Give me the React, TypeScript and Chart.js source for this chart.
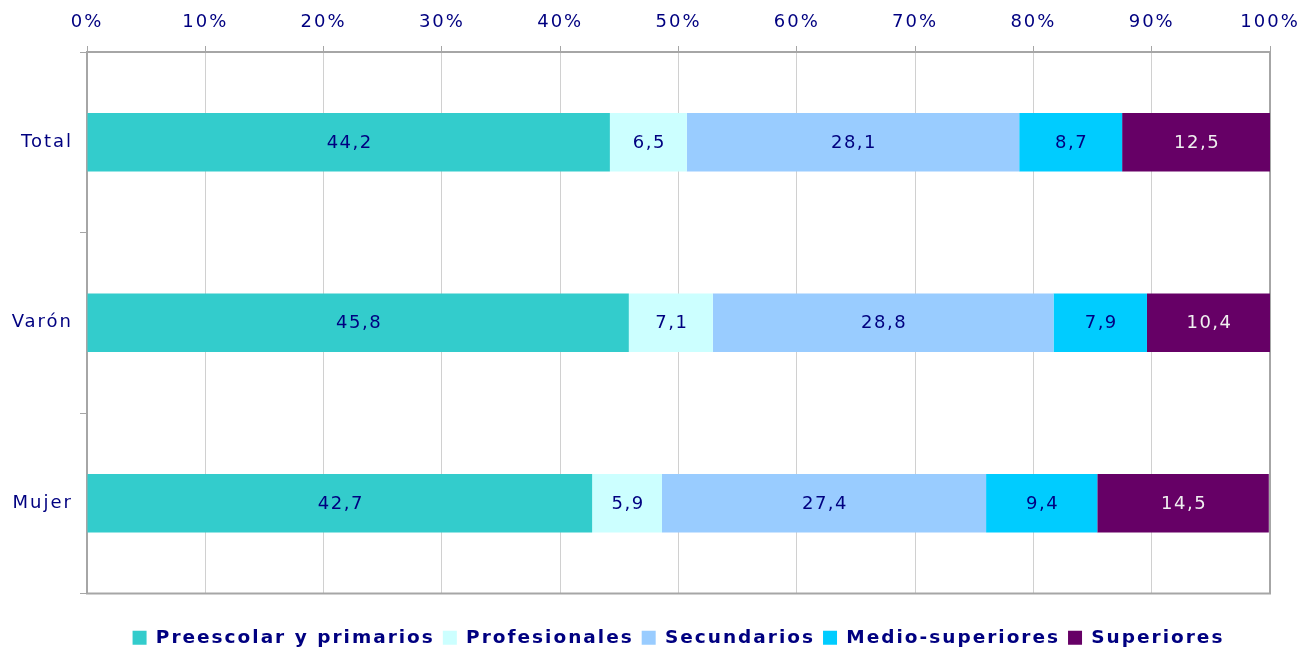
import React, { useEffect, useRef } from "react";
import { Chart, registerables } from "chart.js";

Chart.register(...registerables);

const categories = ["Total", "Varón", "Mujer"];
const seriesNames = ["Preescolar y primarios", "Profesionales", "Secundarios", "Medio-superiores", "Superiores"];
const preescolar = [44.2, 45.8, 42.7];
const profesionales = [6.5, 7.1, 5.9];
const secundarios = [28.1, 28.8, 27.4];
const medioSuperiores = [8.7, 7.9, 9.4];
const superiores = [12.5, 10.4, 14.5];
const seriesColors = ["#33CCCC", "#CCFFFF", "#99CCFF", "#00CCFF", "#660066"];
const labelColors = ["#000080", "#000080", "#000080", "#000080", "#F0F0F0"];

const FONT = "'DejaVu Sans', Verdana, sans-serif";
const NAVY = "#000080";

const spacingPlugin = {
  id: "spacing",
  beforeUpdate(chart: any) { chart.ctx.letterSpacing = "2px"; },
  beforeLayout(chart: any) { chart.ctx.letterSpacing = "2px"; },
  beforeDraw(chart: any) { chart.ctx.letterSpacing = "2px"; },
};

const framePlugin = {
  id: "frame",
  beforeDatasetsDraw(chart: any) {
    const { ctx, chartArea } = chart;
    ctx.save();
    ctx.strokeStyle = "#A6A6A6";
    ctx.lineWidth = 2;
    ctx.strokeRect(chartArea.left, chartArea.top, chartArea.right - chartArea.left, chartArea.bottom - chartArea.top);
    ctx.restore();
  },
};

const valueLabelPlugin = {
  id: "valueLabels",
  afterDatasetsDraw(chart: any) {
    const { ctx } = chart;
    ctx.save();
    ctx.letterSpacing = "1.5px";
    ctx.font = `18px ${FONT}`;
    ctx.textAlign = "center";
    ctx.textBaseline = "middle";
    chart.data.datasets.forEach((ds: any, i: number) => {
      const meta = chart.getDatasetMeta(i);
      meta.data.forEach((bar: any, j: number) => {
        const v = ds.data[j];
        const cx = (bar.x + bar.base) / 2;
        ctx.fillStyle = labelColors[i];
        ctx.fillText(v.toFixed(1).replace(".", ","), cx + 1, bar.y + 1);
      });
    });
    ctx.restore();
  },
};

export default function App() {
  const ref = useRef<HTMLCanvasElement>(null);
  useEffect(() => {
    document.body.style.margin = "0";
    const data = [preescolar, profesionales, secundarios, medioSuperiores, superiores];
    const chart = new Chart(ref.current!, {
      type: "bar",
      data: {
        labels: categories,
        datasets: seriesNames.map((name, i) => ({
          label: name,
          data: data[i],
          backgroundColor: seriesColors[i],
          borderWidth: 0,
          barPercentage: 0.325,
          categoryPercentage: 1,
        })),
      },
      options: {
        indexAxis: "y",
        animation: false,
        responsive: false,
        maintainAspectRatio: false,
        layout: { padding: { left: 0, right: 36, top: 10, bottom: -9 } },
        scales: {
          x: {
            position: "top",
            stacked: true,
            min: 0,
            max: 100,
            ticks: {
              stepSize: 10,
              color: NAVY,
              font: { family: FONT, size: 18 },
              padding: 13,
              callback: (v: any) => `${v}%`,
            },
            grid: { color: "#D0D0D0", lineWidth: 1, tickLength: 6, tickColor: "#A6A6A6" },
            border: { color: "#A6A6A6", width: 2 },
            afterFit: (s: any) => { s.height = 42; s.paddingLeft = 0; s.paddingRight = 0; },
          },
          y: {
            stacked: true,
            ticks: { color: NAVY, font: { family: FONT, size: 18 }, padding: 7 },
            grid: { drawOnChartArea: false, tickLength: 7, tickColor: "#A6A6A6" },
            border: { color: "#A6A6A6", width: 2 },
            afterFit: (s: any) => { s.width = 87; },
          },
        },
        plugins: {
          legend: {
            position: "bottom",
            fullSize: false,
            title: { display: true, text: " ", padding: 8.5, font: { size: 10, lineHeight: 1 } },
            labels: {
              color: NAVY,
              font: { family: FONT, size: 18.5, weight: "bold" },
              boxWidth: 14,
              boxHeight: 14,
              padding: 8,
            },
          },
          tooltip: { enabled: false },
        },
      },
      plugins: [spacingPlugin, framePlugin, valueLabelPlugin],
    });
    return () => chart.destroy();
  }, []);
  return <canvas ref={ref} width={1306} height={648} style={{ display: "block" }} />;
}
